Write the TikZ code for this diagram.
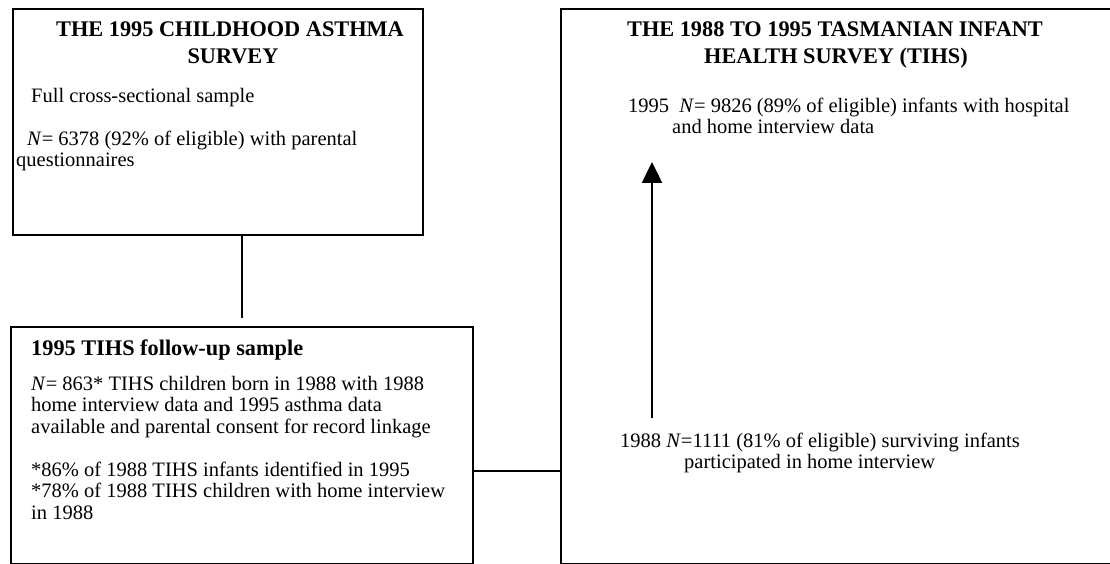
\documentclass[tikz,border=0pt]{standalone}
\usepackage{fontspec}
\setmainfont{Liberation Serif}
\usetikzlibrary{arrows.meta}
\begin{document}
\begin{tikzpicture}[x=1pt,y=-1pt,
  box/.style={draw, line width=1.9pt, rectangle, inner sep=0pt, anchor=north west},
  head/.style={font=\fontsize{22.3}{27}\selectfont\bfseries, inner sep=0pt, anchor=base},
  lefthead/.style={font=\fontsize{22.3}{27}\selectfont\bfseries, inner sep=0pt, anchor=base west},
  body/.style={font=\fontsize{20.5}{21.5}\selectfont, inner sep=0pt, anchor=base west},
  link/.style={line width=2pt},
  flow/.style={line width=2.4pt, -{Triangle[width=20pt,length=21pt]}}]
\path[use as bounding box, clip] (0,0) rectangle (1110,564);

% the three survey boxes
\node[box, minimum width=410pt, minimum height=226pt] (asthma) at (12,8) {};
\node[box, minimum width=462pt, minimum height=237pt] (follow) at (10,326) {};
\node[box, minimum width=570pt, minimum height=555pt] (tihs) at (560,8) {};

% childhood asthma survey
\node[head] (ah1) at (230,37) {THE 1995 CHILDHOOD ASTHMA};
\node[head] (ah2) at (233,64) {SURVEY};
\node[body] (a1) at (31,103) {Full cross-sectional sample};
\node[body] (a2) at (27,146) {\textit{N}= 6378 (92\% of eligible) with parental};
\node[body] (a3) at (16,167) {questionnaires};

% follow-up sample
\node[lefthead] (fh) at (31,355) {1995 TIHS follow-up sample};
\node[body] (f1) at (31,390) {\textit{N}= 863* TIHS children born in 1988 with 1988};
\node[body] (f2) at (31,411) {home interview data and 1995 asthma data};
\node[body] (f3) at (31,433) {available and parental consent for record linkage};
\node[body] (f4) at (31,476) {*86\% of 1988 TIHS infants identified in 1995};
\node[body] (f5) at (31,497) {*78\% of 1988 TIHS children with home interview};
\node[body] (f6) at (31,519) {in 1988};

% infant health survey
\node[head] (th1) at (835,37) {THE 1988 TO 1995 TASMANIAN INFANT};
\node[head] (th2) at (836,64) {HEALTH SURVEY (TIHS)};
\node[body] (t95a) at (628,113) {1995\ \ \textit{N}= 9826 (89\% of eligible) infants with hospital};
\node[body] (t95b) at (672,134) {and home interview data};
\node[body] (t88a) at (620,447) {1988 \textit{N}=1111 (81\% of eligible) surviving infants};
\node[body] (t88b) at (684,468) {participated in home interview};

% connectors
\draw[link] (asthma.south -| follow.north) -- ([yshift=8pt]follow.north);
\coordinate (joint) at (472,471);
\draw[link] (joint) -- (joint -| tihs.west);
\coordinate (from88) at (652,418);
\coordinate (to95) at (652,162);
\draw[flow] (from88) -- (to95);
\end{tikzpicture}
\end{document}
